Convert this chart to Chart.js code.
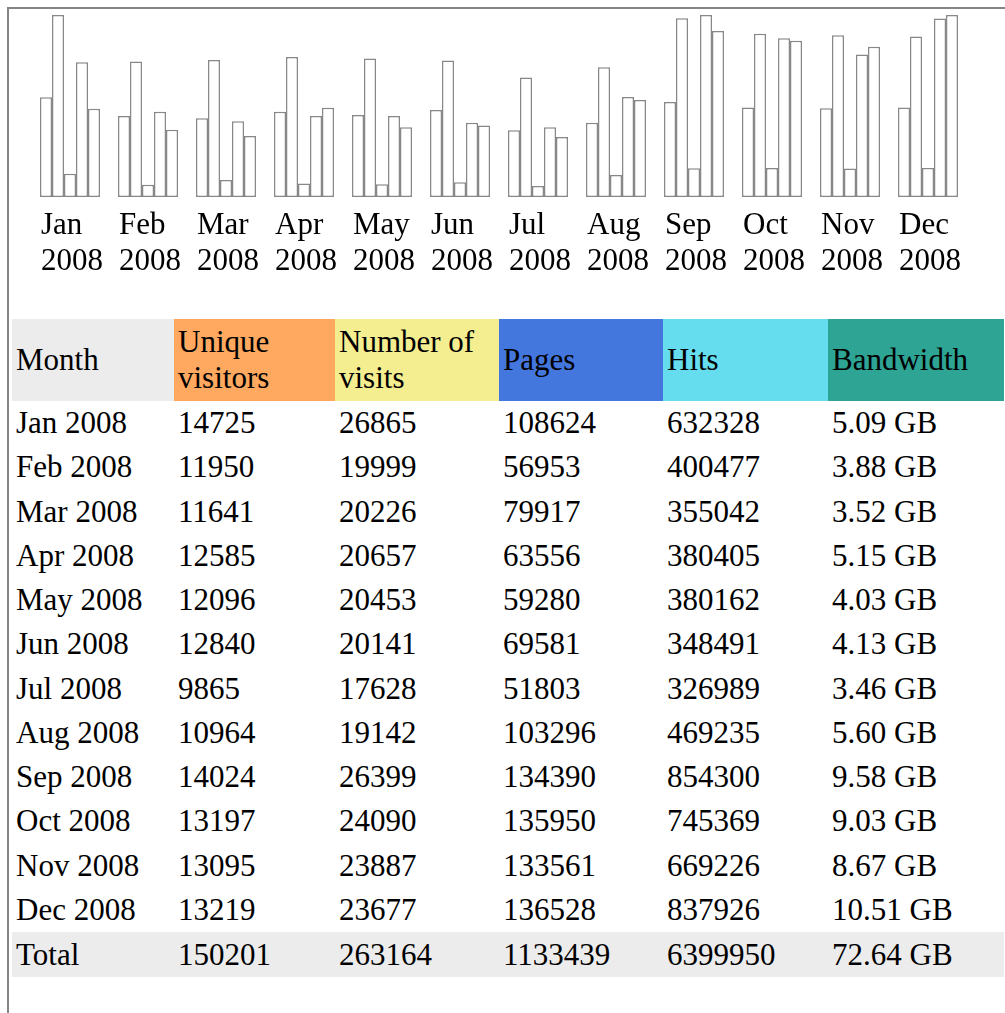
<!DOCTYPE html>
<html>
<head>
<meta charset="utf-8">
<script src="https://cdn.jsdelivr.net/npm/chart.js@4"></script>
<style>
  body { margin: 0; background: #fff; width: 1005px; height: 1013px; overflow: hidden; position: relative; }
  .frame { position: absolute; left: 7px; top: 7px; right: 0; bottom: 0; border-left: 2px solid #858585; border-top: 2px solid #858585; }
  .chartBox { position: absolute; left: 31px; top: 15px; width: 936px; height: 262px; }
  table { position: absolute; left: 12px; top: 319px; width: 992px; border-collapse: collapse; table-layout: fixed;
          font-family: "Liberation Serif", "Times New Roman", serif; font-size: 31px; color: #000; }
  td, th { padding: 0 0 0 4px; text-align: left; font-weight: normal; vertical-align: middle; height: 44.25px; white-space: normal; }
  th { height: 82px; line-height: 36px; }
  .tot td { background: #ececec; height: 45px; }
</style>
</head>
<body>
<div class="frame"></div>
<div class="chartBox"><canvas id="c"></canvas></div>
<table id="tbl">
  <colgroup>
    <col style="width:162px"><col style="width:161px"><col style="width:164px"><col style="width:164px"><col style="width:165px"><col style="width:176px">
  </colgroup>
  <thead><tr id="head"></tr></thead>
  <tbody id="body"></tbody>
</table>
<script>
// ============ DADOS ============
const months = ["Jan", "Feb", "Mar", "Apr", "May", "Jun", "Jul", "Aug", "Sep", "Oct", "Nov", "Dec"];
const year = "2008";
const uniqueVisitors = [14725, 11950, 11641, 12585, 12096, 12840, 9865, 10964, 14024, 13197, 13095, 13219];
const visits = [26865, 19999, 20226, 20657, 20453, 20141, 17628, 19142, 26399, 24090, 23887, 23677];
const pages = [108624, 56953, 79917, 63556, 59280, 69581, 51803, 103296, 134390, 135950, 133561, 136528];
const hits = [632328, 400477, 355042, 380405, 380162, 348491, 326989, 469235, 854300, 745369, 669226, 837926];
const bandwidth = [5.09, 3.88, 3.52, 5.15, 4.03, 4.13, 3.46, 5.60, 9.58, 9.03, 8.67, 10.51];
const totals = ["150201", "263164", "1133439", "6399950", "72.64 GB"];
const headers = ["Month", "Unique visitors", "Number of visits", "Pages", "Hits", "Bandwidth"];
const headerColors = ["#ececec", "#ffa860", "#f4ee90", "#4477dd", "#66ddee", "#2ea495"];

// ============ TABELA ============
const head = document.getElementById("head");
headers.forEach((h, i) => {
  const th = document.createElement("th");
  th.textContent = h;
  th.style.background = headerColors[i];
  head.appendChild(th);
});
const body = document.getElementById("body");
months.forEach((m, i) => {
  const tr = document.createElement("tr");
  [m + " " + year, uniqueVisitors[i], visits[i], pages[i], hits[i], bandwidth[i].toFixed(2) + " GB"].forEach((v) => {
    const td = document.createElement("td");
    td.textContent = v;
    tr.appendChild(td);
  });
  body.appendChild(tr);
});
const tot = document.createElement("tr");
tot.className = "tot";
["Total", ...totals].forEach((v) => {
  const td = document.createElement("td");
  td.textContent = v;
  tot.appendChild(td);
});
body.appendChild(tot);

// ============ GRAFICO ============
const barStyle = { backgroundColor: "#ffffff", borderColor: "#888888", borderWidth: 1.5, borderSkipped: false };
const hiddenAxis = (max) => ({ display: false, min: 0, max });

new Chart(document.getElementById("c"), {
  type: "bar",
  data: {
    labels: months.map((m) => [m, year]),
    datasets: [
      { label: "Unique visitors", data: uniqueVisitors, yAxisID: "yv", ...barStyle },
      { label: "Number of visits", data: visits, yAxisID: "yv", ...barStyle },
      { label: "Pages", data: pages, yAxisID: "yp", ...barStyle },
      { label: "Hits", data: hits, yAxisID: "yp", ...barStyle },
      { label: "Bandwidth", data: bandwidth, yAxisID: "yb", ...barStyle }
    ]
  },
  options: {
    responsive: true,
    maintainAspectRatio: false,
    animation: false,
    layout: { padding: 0 },
    datasets: { bar: { categoryPercentage: 60 / 78, barPercentage: 1 } },
    plugins: { legend: { display: false }, tooltip: { enabled: false } },
    scales: {
      x: {
        grid: { display: false, drawTicks: false },
        border: { display: false },
        ticks: {
          color: "#000",
          padding: 11,
          align: "start",
          labelOffset: -29,
          maxRotation: 0,
          autoSkip: false,
          font: { family: "Liberation Serif", size: 31, lineHeight: 1.16 }
        },
        afterFit: (scale) => {
          scale.height = 80;
          scale.paddingLeft = 0;
          scale.paddingRight = 0;
        }
      },
      yv: hiddenAxis(Math.max(...visits)),
      yp: hiddenAxis(Math.max(...hits)),
      yb: hiddenAxis(Math.max(...bandwidth))
    }
  }
});
</script>
</body>
</html>
